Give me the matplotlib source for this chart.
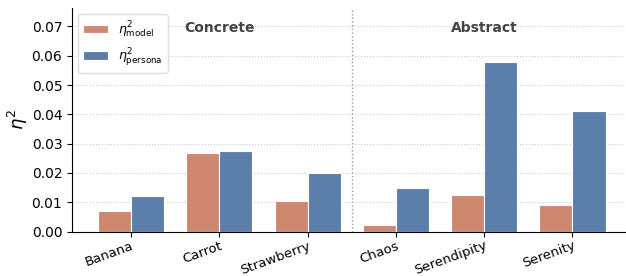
import numpy as np
import matplotlib
matplotlib.use("Agg")
import matplotlib.pyplot as plt

words = ["Banana", "Carrot", "Strawberry", "Chaos", "Serendipity", "Serenity"]
eta_model = [0.0069, 0.0269, 0.0104, 0.0023, 0.0124, 0.0089]
eta_persona = [0.0120, 0.0274, 0.0200, 0.0148, 0.0578, 0.0410]
groups = ["Concrete", "Abstract"]

c_model = "#CE8870"
c_persona = "#5C7FA9"

fig = plt.figure(figsize=(6.26, 2.76), dpi=100)
ax = fig.add_axes([0.115, 0.161, 0.884, 0.81])

x = np.arange(len(words))
w = 0.375
ax.bar(x - w / 2, eta_model, w, color=c_model, edgecolor="white", linewidth=0.8,
       label=r"$\eta^2_{\mathrm{model}}$", zorder=3)
ax.bar(x + w / 2, eta_persona, w, color=c_persona, edgecolor="white", linewidth=0.8,
       label=r"$\eta^2_{\mathrm{persona}}$", zorder=3)

ax.axvline(2.5, color="#999999", linestyle=":", linewidth=1, zorder=1)
ax.text(1, 0.0695, groups[0], ha="center", va="center", fontsize=10,
        fontweight="bold", color="#444444")
ax.text(4, 0.0695, groups[1], ha="center", va="center", fontsize=10,
        fontweight="bold", color="#444444")

ax.set_xticks(x)
ax.set_xticklabels(words, rotation=20, ha="right", rotation_mode="anchor", fontsize=9.5)
ax.set_xlim(-0.67, 5.6)
ax.set_ylim(0, 0.0763)
ax.set_yticks(np.arange(0, 0.071, 0.01))
ax.tick_params(axis="y", labelsize=10)
ax.tick_params(axis="x", pad=2)
ax.set_ylabel(r"$\eta^2$", fontsize=13, labelpad=1)
ax.yaxis.grid(True, linestyle=":", color="#cccccc", linewidth=0.8, zorder=0)
ax.set_axisbelow(True)
for s in ["top", "right"]:
    ax.spines[s].set_visible(False)

ax.legend(loc="upper left", fontsize=9, framealpha=1, edgecolor="#dddddd")

fig.savefig("out.png", dpi=100)
